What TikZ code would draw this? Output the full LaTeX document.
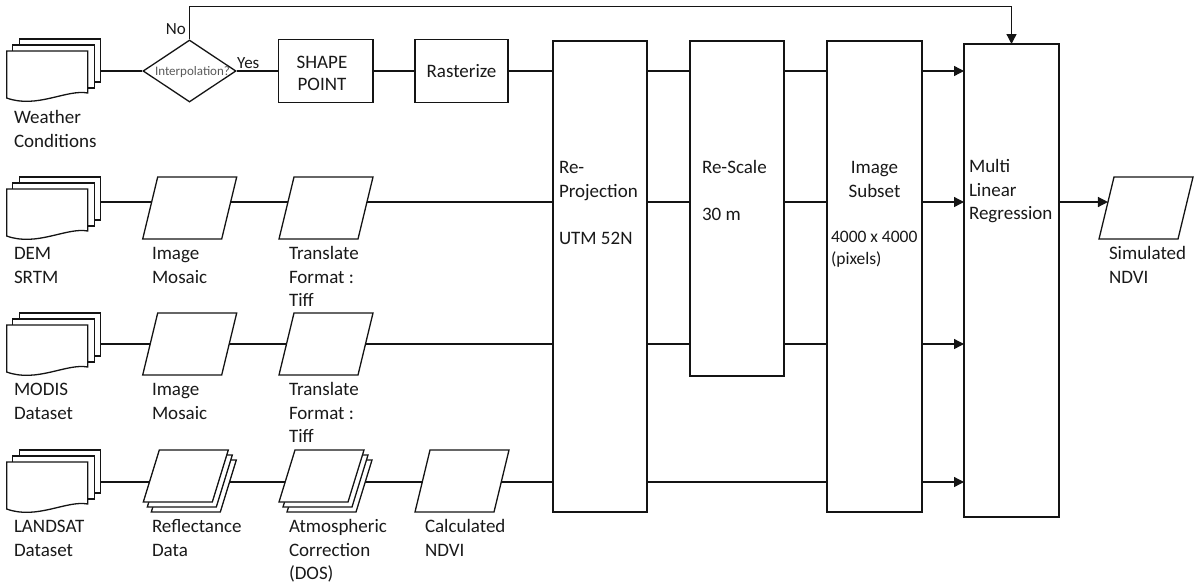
\documentclass[tikz,border=0pt]{standalone}
\usepackage{fontspec}
\setmainfont{Carlito}
\usetikzlibrary{arrows.meta,shapes.geometric}
\pgfdeclarelayer{bg}
\pgfsetlayers{bg,main}
\definecolor{ink}{RGB}{20,20,20}
\definecolor{txt}{RGB}{25,25,25}
\definecolor{soft}{RGB}{90,90,90}
\tikzset{
  shp/.style={draw=ink, line width=1.3pt, fill=white, line join=miter},
  conn/.style={draw=ink, line width=1.3pt},
  arr/.style={draw=ink, line width=1.3pt, -{Triangle[length=10pt,width=10pt]}},
  lbl/.style={anchor=north west, inner sep=0pt, outer sep=0pt, align=left, text=txt, font=\fontsize{19}{23.5}\selectfont},
  ghost/.style={inner sep=0pt, outer sep=0pt, anchor=north west},
  docs/.pic={
    \draw[shp] (13,0) rectangle (94,43);
    \draw[shp] (6,6) rectangle (88,49);
    \draw[shp] (0,12) -- (81,12) -- (81,54) .. controls (60,50) and (30,70) .. (0,59) -- cycle;
    \node[ghost, minimum width=94, minimum height=63] (-b) at (0,0) {};
  },
  para/.pic={
    \draw[shp] (15,0) -- (94,0) -- (79,62) -- (0,62) -- cycle;
    \node[ghost, minimum width=94, minimum height=62] (-b) at (0,0) {};
    \coordinate (-tl) at (15,0);
    \coordinate (-bl) at (0,62);
  },
  pstack/.pic={
    \draw[shp] (24,10) -- (93,10) -- (77,62) -- (8,62) -- cycle;
    \draw[shp] (20,5) -- (89,5) -- (73,57) -- (4,57) -- cycle;
    \draw[shp] (16,0) -- (85,0) -- (69,52) -- (0,52) -- cycle;
    \node[ghost, minimum width=93, minimum height=62] (-b) at (0,0) {};
  }
}
\begin{document}
\begin{tikzpicture}[x=1pt, y=-1pt]
\useasboundingbox (0,0) rectangle (1198,587);

% row levels
\coordinate (r1) at (0,71);
\coordinate (r2) at (0,202);
\coordinate (r3) at (0,344);
\coordinate (r4) at (0,482);

% ---------- row 1: weather ----------
\pic (w) at (6.7,39) {docs};
\node[shp, diamond, minimum width=93, minimum height=62, inner sep=0pt] (dia) at (189.5,71) {};
\node[inner sep=0pt, text=soft, font=\fontsize{13}{15}\selectfont] (diat) at (192.5,72) {Interpolation?};
\node[shp, ghost, minimum width=94.5, minimum height=63] (sp) at (278.6,39.5) {};
\node[inner sep=0pt, align=center, text=txt, font=\fontsize{19}{22}\selectfont] (spt) at (322,73) {SHAPE\\POINT};
\node[shp, ghost, minimum width=93, minimum height=63] (ra) at (415,39.5) {};
\node[inner sep=0pt, text=txt, font=\fontsize{19}{22}\selectfont] (rat) at (ra.center) {Rasterize};

% ---------- row 2: DEM ----------
\pic (d) at (6.7,177) {docs};
\pic (m1) at (142.7,177) {para};
\pic (t1) at (279,177) {para};

% ---------- row 3: MODIS ----------
\pic (mo) at (6.7,313) {docs};
\pic (m2) at (142.7,313) {para};
\pic (t2) at (279,313) {para};

% ---------- row 4: LANDSAT ----------
\pic (la) at (6.7,450) {docs};
\pic (rf) at (143.3,450) {pstack};
\pic (at) at (279,450) {pstack};
\pic (cn) at (415,450) {para};

% ---------- tall boxes ----------
\node[shp, ghost, minimum width=94, minimum height=471] (rp) at (553,41) {};
\node[shp, ghost, minimum width=94, minimum height=335] (rs) at (690,41) {};
\node[shp, ghost, minimum width=95, minimum height=471] (is) at (827,41) {};
\node[shp, ghost, minimum width=95, minimum height=473] (mlr) at (964,44) {};
\pic (s) at (1099,177) {para};

% texts inside tall boxes
\node[lbl] (rpt) at (559,157.5) {\strut Re-\\Projection\\[23.5pt]UTM 52N};
\node[lbl] (rst) at (702,157.5) {\strut Re-Scale\\[23.5pt]30 m};
\node[lbl, anchor=north, align=center] (ist) at (874.5,157.5) {\strut Image\\Subset};
\node[lbl, font=\fontsize{17.5}{22}\selectfont] (isp) at (831,227) {\strut 4000 x 4000\\(pixels)};
\node[lbl] (mlrt) at (969,156.5) {\strut Multi\\Linear\\Regression};

% labels under shapes
\node[lbl] (wl) at (14,107.5) {\strut Weather\\Conditions};
\node[lbl] (dl) at (14,243.5) {\strut DEM\\SRTM};
\node[lbl] (m1l) at (152,243.5) {\strut Image\\Mosaic};
\node[lbl] (t1l) at (289,243.5) {\strut Translate\\Format :\\Tiff};
\node[lbl] (mol) at (14,379.5) {\strut MODIS\\Dataset};
\node[lbl] (m2l) at (152,379.5) {\strut Image\\Mosaic};
\node[lbl] (t2l) at (289,379.5) {\strut Translate\\Format :\\Tiff};
\node[lbl] (lal) at (14,516.5) {\strut LANDSAT\\Dataset};
\node[lbl] (rfl) at (152,516.5) {\strut Reflectance\\Data};
\node[lbl] (atl) at (289,516.5) {\strut Atmospheric\\Correction\\(DOS)};
\node[lbl] (cnl) at (425,516.5) {\strut Calculated\\NDVI};
\node[lbl] (sl) at (1109,243.5) {\strut Simulated\\NDVI};

% decision labels
\node[anchor=base east, inner sep=0pt, text=txt, font=\fontsize{17}{20}\selectfont] (no) at (186,34) {No};
\node[anchor=base west, inner sep=0pt, text=txt, font=\fontsize{17}{20}\selectfont] (yes) at (237,68) {Yes};

% ---------- connectors (behind shapes) ----------
\begin{pgfonlayer}{bg}
  % row 1
  \draw[conn] (r1 -| w-b.east) -- (dia.west);
  \draw[conn] (dia.east) -- (dia.east -| sp.west);
  \draw[conn] (r1 -| sp.east) -- (r1 -| ra.west);
  \draw[conn] (r1 -| ra.east) -- (r1 -| rp.west);
  \draw[conn] (r1 -| rp.east) -- (r1 -| rs.west);
  \draw[conn] (r1 -| rs.east) -- (r1 -| is.west);
  % row 2
  \draw[conn] (r2 -| d-b.east) -- (r2 -| m1-b.center);
  \draw[conn] (r2 -| m1-b.center) -- (r2 -| t1-b.center);
  \draw[conn] (r2 -| t1-b.center) -- (r2 -| rp.west);
  \draw[conn] (r2 -| rp.east) -- (r2 -| rs.west);
  \draw[conn] (r2 -| rs.east) -- (r2 -| is.west);
  % row 3
  \draw[conn] (r3 -| mo-b.east) -- (r3 -| m2-b.center);
  \draw[conn] (r3 -| m2-b.center) -- (r3 -| t2-b.center);
  \draw[conn] (r3 -| t2-b.center) -- (r3 -| rp.west);
  \draw[conn] (r3 -| rp.east) -- (r3 -| rs.west);
  \draw[conn] (r3 -| rs.east) -- (r3 -| is.west);
  % row 4
  \draw[conn] (r4 -| la-b.east) -- (r4 -| rf-b.center);
  \draw[conn] (r4 -| rf-b.center) -- (r4 -| at-b.center);
  \draw[conn] (r4 -| at-b.center) -- (r4 -| cn-b.center);
  \draw[conn] (r4 -| cn-b.center) -- (r4 -| rp.west);
  \draw[conn] (r4 -| rp.east) -- (r4 -| is.west);
\end{pgfonlayer}

% arrows into regression
\draw[arr] (r1 -| is.east) -- (r1 -| mlr.west);
\draw[arr] (r2 -| is.east) -- (r2 -| mlr.west);
\draw[arr] (r3 -| is.east) -- (r3 -| mlr.west);
\draw[arr] (r4 -| is.east) -- (r4 -| mlr.west);

% feedback "No" path
\draw[arr] (dia.north) -- ++(0,-33) -| (mlr.north);

% regression -> simulated NDVI
\coordinate (sa) at (r2 -| mlr.east);
\coordinate (sb) at (r2 -| s-b.east);
\coordinate (simin) at (intersection of s-tl--s-bl and sa--sb);
\draw[arr] (sa) -- (simin);
\end{tikzpicture}
\end{document}
